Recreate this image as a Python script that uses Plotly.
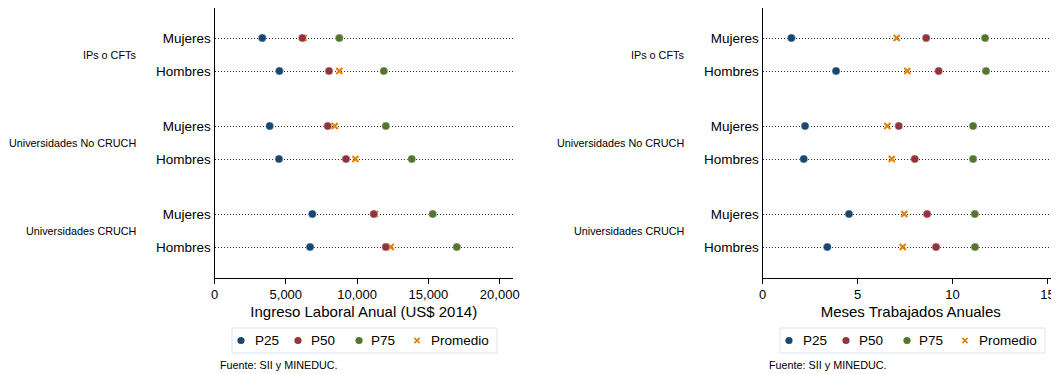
import plotly.graph_objects as go

# ---------------- data ----------------
groups = ["IPs o CFTs", "Universidades No CRUCH", "Universidades CRUCH"]
sexes = ["Mujeres", "Hombres"]

# order of rows: (IPs Mujeres, IPs Hombres, NoCRUCH Mujeres, NoCRUCH Hombres, CRUCH Mujeres, CRUCH Hombres)
ing_p25 = [3350, 4550, 3870, 4520, 6860, 6700]
ing_p50 = [6160, 8030, 7940, 9220, 11170, 12010]
ing_p75 = [8750, 11870, 12010, 13830, 15300, 16990]
ing_prom = [6250, 8750, 8430, 9880, 11250, 12360]

mes_p25 = [1.52, 3.87, 2.24, 2.17, 4.55, 3.41]
mes_p50 = [8.61, 9.27, 7.17, 8.01, 8.66, 9.13]
mes_p75 = [11.71, 11.76, 11.08, 11.08, 11.17, 11.18]
mes_prom = [7.06, 7.62, 6.57, 6.80, 7.46, 7.38]

x_ticks_ing = [0, 5000, 10000, 15000, 20000]
x_ticks_mes = [0, 5, 10, 15]

series_names = ["P25", "P50", "P75", "Promedio"]

# ---------------- style ----------------
PAGE_OFF = 8                     # default page body margin of the html
W, H = 1059 - PAGE_OFF, 374 - PAGE_OFF
FONT = "Liberation Sans, Arial, sans-serif"
C_P25 = "#1a476f"
C_P50 = "#90353b"
C_P75 = "#55752f"
C_PROM = "#e37e00"
colors = [C_P25, C_P50, C_P75, C_PROM]


def px(x):
    return (x - PAGE_OFF) / W


def py(y):
    return 1 - (y - PAGE_OFF) / H


GROUP_STEP = 88 / 33.0
row_pos = [g * GROUP_STEP + i for g in range(len(groups)) for i in range(len(sexes))]
row_text = [s for g in groups for s in sexes]
group_pos = [g * GROUP_STEP + 0.5 for g in range(len(groups))]

top_px, bot_px = 8, 277.5
y_range = [(bot_px - 38) / 33.0, (top_px - 38) / 33.0]
y_dom = [py(bot_px), min(1.0, py(top_px))]

fig = go.Figure()

panels = [
    dict(xa="x", ya="y", data=[ing_p25, ing_p50, ing_p75, ing_prom], leg_x=232, lab_x=138, src_x=218),
    dict(xa="x2", ya="y2", data=[mes_p25, mes_p50, mes_p75, mes_prom], leg_x=780, lab_x=686, src_x=767),
]

for p in panels:
    # draw Promedio first (underneath), then percentiles
    for k in [3, 0, 1, 2]:
        if k == 3:
            marker = dict(symbol="x-thin", size=6, color=C_PROM,
                          line=dict(width=2, color=C_PROM))
        else:
            marker = dict(symbol="circle", size=8, color=colors[k],
                          line=dict(width=0.6, color="rgba(255,255,255,0.6)"))
        fig.add_trace(go.Scatter(
            x=p["data"][k], y=row_pos, mode="markers", name=series_names[k],
            marker=marker, xaxis=p["xa"], yaxis=p["ya"], showlegend=False,
            cliponaxis=False, hoverinfo="x+name"))

axis_common = dict(showline=True, linecolor="black", linewidth=1,
                   ticks="outside", ticklen=5, tickcolor="black",
                   showgrid=False, zeroline=False, automargin=False,
                   tickfont=dict(family=FONT, size=13, color="black"))

yaxis_common = dict(domain=y_dom, range=y_range,
                    tickvals=row_pos, ticktext=row_text, ticks="",
                    showline=True, linecolor="black", linewidth=1,
                    showgrid=True, gridcolor="#2a2a2a", gridwidth=1, griddash="1px,2px",
                    zeroline=False, ticklabelstandoff=0, automargin=False,
                    tickfont=dict(family=FONT, size=13.5, color="black"))

fig.update_layout(
    width=W, height=H,
    margin=dict(l=0, r=0, t=0, b=0, autoexpand=False),
    paper_bgcolor="white", plot_bgcolor="white",
    font=dict(family=FONT, color="black"),
    showlegend=False,
    xaxis=dict(domain=[px(214.5), px(513)], range=[0, 20930],
               tickvals=x_ticks_ing, tickformat=",d",
               title=dict(text="Ingreso Laboral Anual (US$ 2014)",
                          font=dict(family=FONT, size=15, color="black"), standoff=5),
               anchor="y", **axis_common),
    xaxis2=dict(domain=[px(762.5), 1.0], range=[0, 15.6],
                tickvals=x_ticks_mes,
                title=dict(text="Meses Trabajados Anuales",
                           font=dict(family=FONT, size=15, color="black"), standoff=5),
                anchor="y2", **axis_common),
    yaxis=dict(anchor="x", **yaxis_common),
    yaxis2=dict(anchor="x2", **yaxis_common),
)

# group labels, source notes and legend boxes for both panels
sym_off = [9, 66, 127, 185]
txt_off = [20.5, 77, 136.5, 197]
leg_top, leg_bot, leg_w = 328, 353, 265
leg_mid = (leg_top + leg_bot) / 2.0
for p in panels:
    for g, gp in zip(groups, group_pos):
        fig.add_annotation(text=g, x=px(p["lab_x"]), y=gp, xref="paper", yref=p["ya"],
                           xanchor="right", yanchor="middle", showarrow=False,
                           font=dict(family=FONT, size=10.8, color="black"))
    fig.add_annotation(text="Fuente: SII y MINEDUC.", x=px(p["src_x"]), y=py(365),
                       xref="paper", yref="paper", xanchor="left", yanchor="middle",
                       showarrow=False, font=dict(family=FONT, size=10.8, color="black"))
    # legend frame
    lx = p["leg_x"]
    fig.add_shape(type="rect", xref="paper", yref="paper",
                  x0=px(lx), x1=px(lx + leg_w), y0=py(leg_bot), y1=py(leg_top),
                  line=dict(color="#dbe5ee", width=1), fillcolor="white", layer="below")
    for k, name in enumerate(series_names):
        cx = lx + sym_off[k]
        if k < 3:
            r = 3.6
            fig.add_shape(type="circle", xref="paper", yref="paper",
                          x0=px(cx - r), x1=px(cx + r), y0=py(leg_mid + r), y1=py(leg_mid - r),
                          fillcolor=colors[k], line=dict(width=0))
        else:
            r = 2.6
            for (a, b, c, d) in [(-r, -r, r, r), (-r, r, r, -r)]:
                fig.add_shape(type="line", xref="paper", yref="paper",
                              x0=px(cx + a), y0=py(leg_mid + b), x1=px(cx + c), y1=py(leg_mid + d),
                              line=dict(color=C_PROM, width=1.6))
        fig.add_annotation(text=name, x=px(lx + txt_off[k]), y=py(leg_mid),
                           xref="paper", yref="paper", xanchor="left", yanchor="middle",
                           showarrow=False, font=dict(family=FONT, size=13.5, color="black"))

fig.write_html("out.html")
